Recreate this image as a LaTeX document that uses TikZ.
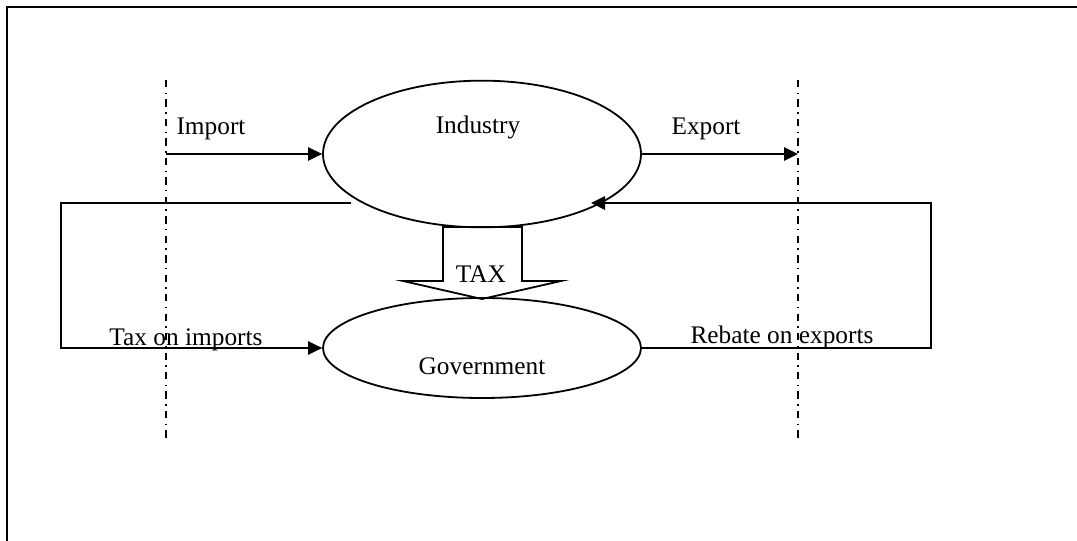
\documentclass[tikz,border=0pt]{standalone}
\usepackage{fontspec}
\setmainfont{Liberation Serif}
\usetikzlibrary{shapes.geometric,arrows.meta}
\begin{document}
\begin{tikzpicture}[x=0.75pt,y=-0.75pt,
  line/.style={line width=1.35pt},
  flow/.style={line, -{Triangle[length=10.5pt,width=10pt]}},
  frame/.style={line width=2pt},
  sector/.style={draw, ellipse, line width=1.35pt, inner sep=0pt},
  border line/.style={line width=1.3pt, dash pattern=on 5.5pt off 4pt on 1.1pt off 4pt},
  lbl/.style={inner sep=0pt, anchor=base, font=\fontsize{19}{23}\selectfont}]
\useasboundingbox (0,0) rectangle (1077,541);

% page frame (top and left edges)
\draw[frame] (1077,7) -- (7,7) -- (7,541);

% national borders
\coordinate (bl1) at (166,80);
\coordinate (bl2) at (166,440);
\coordinate (br1) at (798,80);
\coordinate (br2) at (798,440);
\draw[border line] (bl1) -- (bl2);
\draw[border line] (br1) -- (br2);

% sectors
\node[sector, minimum width=238.5pt, minimum height=110pt] (ind) at (482,154) {};
\node[sector, minimum width=238.5pt, minimum height=75pt] (gov) at (482,348) {};
\node[lbl] (indtxt) at (478,134) {Industry};
\node[lbl] (govtxt) at (482,374) {Government};

% trade flows
\coordinate (imp) at (166,154);
\coordinate (exp) at (798,154);
\draw[flow] (imp) -- (ind.west);
\draw[flow] (ind.east) -- (exp);
\node[lbl] (imptxt) at (211,135) {Import};
\node[lbl] (exptxt) at (706,135) {Export};

% tax on imports loop
\coordinate (ti0) at (351,203);
\coordinate (ti1) at (61,203);
\coordinate (ti2) at (61,348);
\draw[flow] (ti0) -- (ti1) -- (ti2) -- (gov.west);
\node[lbl] (titxt) at (186,345) {Tax on imports};

% rebate on exports loop
\coordinate (re1) at (931,348);
\coordinate (re2) at (931,203);
\coordinate (re3) at (591,203);
\draw[flow] (gov.east) -- (re1) -- (re2) -- (re3);
\node[lbl] (retxt) at (782,344) {Rebate on exports};

% tax block arrow
\draw[line, line join=miter] (443,227) -- (522,227) -- (522,281) -- (561,281)
  -- (482,299) -- (403,281) -- (443,281) -- cycle;
\node[lbl] (taxtxt) at (481,283) {TAX};
\end{tikzpicture}
\end{document}
